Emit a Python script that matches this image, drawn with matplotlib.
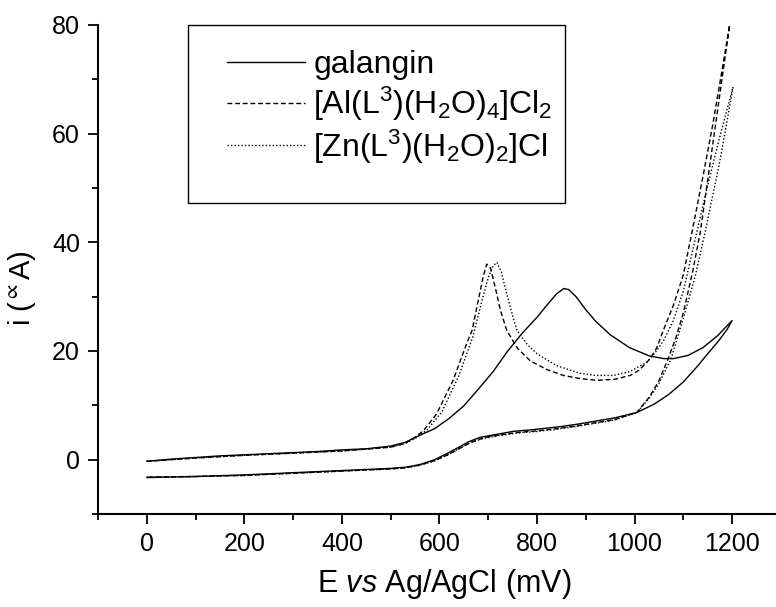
#!/usr/bin/env python3
# -*- coding: utf-8 -*-
"""Cyclic voltammograms of galangin and its Al / Zn complexes."""

import matplotlib
matplotlib.use("Agg")
import matplotlib.pyplot as plt
from matplotlib.patches import Rectangle
from matplotlib.ticker import MultipleLocator

plt.rcParams["font.family"] = ["Liberation Sans", "DejaVu Sans"]
plt.rcParams["mathtext.fontset"] = "custom"
plt.rcParams["mathtext.rm"] = "Liberation Sans"
plt.rcParams["mathtext.it"] = "Liberation Sans:italic"
plt.rcParams["mathtext.default"] = "regular"

# galangin, forward (anodic) scan
gal_fwd_E = [0, 50, 100, 150, 200, 250, 300, 350, 400, 450, 500, 530, 560, 590, 620,
             650, 680, 710, 740, 770, 800, 820, 840, 855, 865, 880, 900, 920, 950, 990,
             1030, 1060, 1080, 1110, 1140, 1170, 1200]
gal_fwd_i = [-0.3, 0.1, 0.4, 0.7, 0.9, 1.1, 1.3, 1.5, 1.8, 2.0, 2.5, 3.2, 4.5, 5.7, 7.6,
             9.9, 13.0, 16.2, 20.0, 23.3, 26.2, 28.4, 30.5, 31.5, 31.3, 30.0, 27.6, 25.5, 23.0, 20.6,
             19.1, 18.6, 18.6, 19.2, 20.6, 22.8, 25.6]
# galangin, reverse scan
gal_rev_E = [1200, 1190, 1170, 1150, 1130, 1100, 1070, 1040, 1005, 960, 920, 888, 850, 800,
             751, 720, 683, 660, 640, 615, 590, 560, 530, 500, 478, 400, 300, 200, 100, 0]
gal_rev_i = [25.6, 24.0, 21.6, 19.5, 17.3, 14.3, 12.0, 10.2, 8.7, 7.7, 7.1, 6.6, 6.1, 5.6,
             5.2, 4.7, 4.1, 3.3, 2.3, 1.1, 0.0, -0.9, -1.4, -1.6, -1.7, -2.0, -2.4, -2.8, -3.1, -3.3]

# [Al(L3)(H2O)4]Cl2
al_fwd_E = [0, 100, 200, 300, 400, 500, 530, 546, 567, 594, 628, 656, 667, 680, 690, 697,
            705, 715, 725, 738, 760, 786, 820, 854, 890, 923, 960, 991, 1010, 1032, 1045,
            1059, 1080, 1100, 1118, 1140, 1160, 1180, 1195]
al_fwd_i = [-0.3, 0.3, 0.8, 1.2, 1.6, 2.3, 3.0, 3.9, 5.3, 8.4, 14.6, 21.4, 23.8, 29.5, 33.8, 36.0,
            35.2, 31.5, 27.5, 23.8, 20.5, 18.2, 16.6, 15.5, 14.9, 14.6, 14.8, 15.5, 16.5, 18.6, 20.5,
            23.8, 28.5, 34.0, 42.0, 52.0, 61.5, 72.0, 80.0]
al_rev_E = [1195, 1180, 1165, 1150, 1135, 1120, 1100, 1085, 1069, 1050, 1030, 1005, 960, 920,
            880, 840, 800, 760, 720, 690, 665, 640, 615, 590, 560, 530, 500, 400, 300, 200, 100, 0]
al_rev_i = [80.0, 70.5, 61.0, 51.5, 42.0, 35.0, 27.0, 22.5, 18.6, 14.5, 11.5, 8.7, 7.4, 6.8,
            6.2, 5.7, 5.3, 5.0, 4.5, 4.0, 3.2, 2.0, 0.8, -0.2, -1.0, -1.5, -1.7, -2.1, -2.5, -2.9, -3.1, -3.2]

# [Zn(L3)(H2O)2]Cl
zn_fwd_E = [0, 100, 200, 300, 400, 500, 530, 550, 575, 605, 640, 668, 685, 700, 710, 718,
            727, 738, 750, 759, 780, 800, 840, 888, 920, 956, 990, 1025, 1045, 1060, 1079,
            1100, 1128, 1150, 1175, 1202]
zn_fwd_i = [-0.3, 0.3, 0.8, 1.2, 1.6, 2.3, 3.0, 3.9, 5.5, 8.8, 15.5, 22.5, 28.5, 33.5, 35.7, 36.3,
            34.5, 30.5, 26.5, 23.8, 21.2, 19.5, 17.3, 15.9, 15.5, 15.5, 16.2, 17.9, 20.0, 22.0, 25.5,
            31.0, 42.0, 50.5, 59.5, 68.6]
zn_rev_E = [1202, 1190, 1175, 1160, 1145, 1125, 1100, 1075, 1050, 1030, 1005, 960, 920, 880,
            840, 800, 760, 720, 690, 665, 640, 615, 590, 560, 530, 500, 400, 300, 200, 100, 0]
zn_rev_i = [68.6, 62.5, 55.0, 48.5, 42.0, 34.0, 26.0, 18.6, 14.0, 11.3, 8.7, 7.3, 6.7, 6.1,
            5.6, 5.2, 4.9, 4.4, 3.9, 3.2, 2.0, 0.8, -0.2, -1.0, -1.5, -1.7, -2.1, -2.5, -2.9, -3.1, -3.2]

labels = ["galangin",
          r"[Al(L$^{3}$)(H$_{2}$O)$_{4}$]Cl$_{2}$",
          r"[Zn(L$^{3}$)(H$_{2}$O)$_{2}$]Cl"]

W, H = 776, 607
AX_L, AX_T, AX_B = 98, 25, 514


def main():
    fig = plt.figure(figsize=(W / 100, H / 100), dpi=100)
    ax = fig.add_axes([AX_L / W, 1 - AX_B / H, 1 - AX_L / W, (AX_B - AX_T) / H])

    lw = 1.0
    l1, = ax.plot(gal_fwd_E + gal_rev_E, gal_fwd_i + gal_rev_i, color="black", lw=lw)
    l2, = ax.plot(al_fwd_E + al_rev_E, al_fwd_i + al_rev_i, color="black", lw=lw,
                  linestyle=(0, (3.5, 2)))
    l3, = ax.plot(zn_fwd_E + zn_rev_E, zn_fwd_i + zn_rev_i, color="black", lw=lw,
                  linestyle=(0, (1, 1.5)))

    ax.set_xlim(-100, 1290)
    ax.set_ylim(-10, 80)
    ax.set_xticks(range(0, 1201, 200))
    ax.set_yticks(range(0, 81, 20))
    ax.xaxis.set_minor_locator(MultipleLocator(100))
    ax.yaxis.set_minor_locator(MultipleLocator(10))

    for side in ("top", "right"):
        ax.spines[side].set_visible(False)
    for side in ("left", "bottom"):
        ax.spines[side].set_linewidth(1.5)
    ax.tick_params(which="major", direction="out", length=7, width=1.3, labelsize=18, pad=6)
    ax.tick_params(which="minor", direction="out", length=4, width=1.3)

    ax_w, ax_h = W - AX_L, AX_B - AX_T
    ax.set_xlabel(r"E $\mathit{vs}$ Ag/AgCl (mV)", fontsize=22)
    ax.xaxis.set_label_coords((444 - AX_L) / ax_w, (AX_B - 567) / ax_h)
    ax.set_ylabel(r"i ($\mathregular{^{\propto}}$A)", fontsize=21)
    ax.yaxis.set_label_coords((38 - AX_L) / ax_w, (AX_B - 288) / ax_h)

    leg = fig.legend([l1, l2, l3], labels, loc="upper left",
                     bbox_to_anchor=(227 / W, 1 - 50 / H), frameon=False,
                     fontsize=23, handlelength=2.45, labelspacing=0.14, handletextpad=0.25,
                     borderpad=0, borderaxespad=0)
    fig.canvas.draw()
    bb = leg.get_window_extent()
    x0, y_top, y_bot = 188, 25, 203
    fig.add_artist(Rectangle((x0 / W, 1 - y_bot / H), (bb.x1 + 12 - x0) / W, (y_bot - y_top) / H,
                             transform=fig.transFigure, fill=False, edgecolor="black", lw=1.0))

    fig.savefig("out.png", dpi=100)
    plt.close(fig)


if __name__ == "__main__":
    main()
